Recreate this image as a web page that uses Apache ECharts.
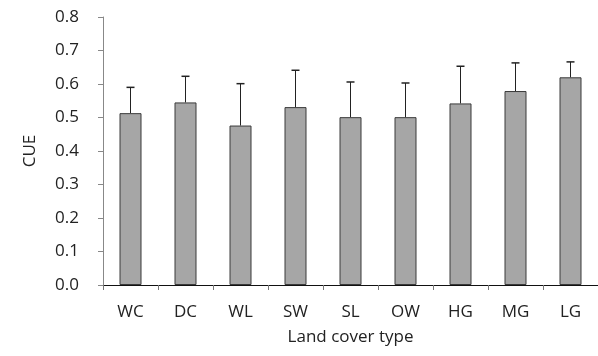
<!DOCTYPE html>
<html><head><meta charset="utf-8">
<script src="https://cdn.jsdelivr.net/npm/echarts@6/dist/echarts.min.js"></script>
<style>html,body{margin:0;padding:0;background:#fff}#c{width:598px;height:356px}</style>
</head><body><div id="c"></div>
<script>
var categories = ['WC','DC','WL','SW','SL','OW','HG','MG','LG'];
var cueMean = [0.513, 0.545, 0.476, 0.531, 0.501, 0.501, 0.542, 0.579, 0.620];
var cueErr  = [0.077, 0.078, 0.125, 0.110, 0.105, 0.102, 0.111, 0.084, 0.046];
var yTicks = [0.0, 0.1, 0.2, 0.3, 0.4, 0.5, 0.6, 0.7, 0.8];

var FONT = '"Open Sans", "Noto Sans", sans-serif';
var chart = echarts.init(document.getElementById('c'));
var errData = categories.map(function(c, i){ return [i, cueMean[i], cueMean[i] + cueErr[i]]; });
chart.setOption({
  animation: false,
  grid: {left: 103, top: 17, width: 500, height: 268},
  xAxis: {
    type: 'category', data: categories,
    name: 'Land cover type', nameLocation: 'middle', nameGap: 44,
    nameTextStyle: {fontFamily: FONT, fontSize: 17, color: '#222'},
    axisLine: {lineStyle: {color: '#111', width: 1}},
    axisTick: {show: true, length: 5, lineStyle: {color: '#777'}},
    axisLabel: {fontFamily: FONT, fontSize: 17, color: '#222', margin: 19}
  },
  yAxis: {
    type: 'value', min: 0, max: 0.8, interval: 0.1,
    name: 'CUE', nameLocation: 'middle', nameGap: 64, nameRotate: 90,
    nameTextStyle: {fontFamily: FONT, fontSize: 17, color: '#222'},
    axisLine: {show: true, lineStyle: {color: '#888', width: 1}},
    axisTick: {show: true, length: 5, lineStyle: {color: '#888'}},
    splitLine: {show: false},
    axisLabel: {fontFamily: FONT, fontSize: 17, color: '#222', margin: 24,
      formatter: function(v){ return v.toFixed(1); }}
  },
  series: [{
    type: 'bar', data: cueMean, barWidth: 22,
    itemStyle: {color: '#a6a6a6', borderColor: '#3a3a3a', borderWidth: 1}
  }, {
    type: 'custom', data: errData, z: 5,
    renderItem: function(params, api){
      var x = api.value(0);
      var b = api.coord([x, api.value(1)]);
      var t = api.coord([x, api.value(2)]);
      var cap = 4;
      return {type: 'group', children: [
        {type: 'line', shape: {x1: b[0], y1: b[1], x2: t[0], y2: t[1]}, style: {stroke: '#222', lineWidth: 1}},
        {type: 'line', shape: {x1: t[0]-cap, y1: t[1], x2: t[0]+cap, y2: t[1]}, style: {stroke: '#222', lineWidth: 1.5}}
      ]};
    }
  }]
});
</script></body></html>
